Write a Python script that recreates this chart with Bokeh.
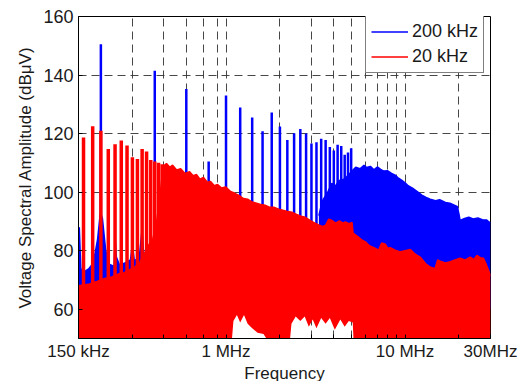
import numpy as np
from bokeh.plotting import figure
from bokeh.models import Range1d, FixedTicker, Legend, LegendItem
from bokeh.embed import file_html
from bokeh.resources import INLINE

# ---------------- data ----------------
x_ticks = [150e3, 300e3, 450e3, 600e3, 750e3, 900e3, 1e6, 2e6, 3e6, 4e6, 5e6,
           6e6, 7e6, 8e6, 9e6, 10e6, 20e6, 30e6]
x_tick_text = {150e3: "150 kHz", 1e6: "1 MHz", 10e6: "10 MHz", 30e6: "30MHz"}
y_ticks = [60, 80, 100, 120, 140, 160]

# 200 kHz switching: harmonic lines
blue_spike_freq = [200e3, 400e3, 600e3, 800e3, 1.0e6, 1.2e6, 1.4e6, 1.6e6, 1.8e6,
                   2.0e6, 2.2e6, 2.4e6, 2.6e6, 2.8e6, 3.0e6, 3.2e6, 3.4e6, 3.6e6,
                   3.8e6, 4.0e6, 4.2e6, 4.4e6, 4.6e6, 4.8e6, 5.0e6]
blue_spike_db = [150.5, 141.5, 135.2, 110.5, 133.0, 128.9, 125.5, 120.8, 127.2,
                 122.4, 117.8, 120.1, 121.6, 120.0, 116.6, 117.0, 118.2, 117.8,
                 115.4, 114.2, 116.2, 115.8, 112.8, 113.5, 115.0]
# 200 kHz: broadband floor below 450 kHz
blue_low_freq = [150e3, 153e3, 156e3, 160e3, 170e3, 180e3, 190e3, 196e3, 200e3,
                 206e3, 215e3, 225e3, 235e3, 240e3, 246e3, 255e3, 270e3, 290e3,
                 300e3, 310e3, 325e3, 340e3, 350e3, 365e3, 385e3, 398e3, 410e3, 440e3]
blue_low_db = [88.0, 88.0, 74.0, 73.0, 74.0, 76.0, 84.0, 92.0, 93.5,
               91.0, 80.0, 75.5, 75.0, 90.3, 78.0, 75.5, 76.0, 77.0,
               84.0, 77.0, 78.0, 90.3, 79.0, 79.0, 80.0, 88.6, 80.0, 80.0]
# 200 kHz: broadband envelope above 3.3 MHz
blue_hi_freq = [3.3e6, 3.45e6, 3.7e6, 3.9e6, 4.07e6, 4.3e6, 4.6e6, 4.85e6, 5.1e6,
                5.3e6, 5.6e6, 5.9e6, 6.1e6, 6.4e6, 6.7e6, 7.0e6, 7.3e6, 7.6e6,
                8.0e6, 8.4e6, 8.8e6, 9.1e6, 9.6e6, 10.0e6, 10.4e6, 11.0e6, 11.8e6,
                12.4e6, 13.1e6, 13.8e6, 14.8e6, 15.6e6, 16.8e6, 17.8e6, 19.1e6,
                19.6e6, 20.0e6, 20.3e6, 21.5e6, 22.7e6, 24.0e6, 25.5e6, 27.0e6,
                28.6e6, 29.4e6, 30.0e6]
blue_hi_db = [92.0, 97.0, 100.0, 103.0, 102.0, 104.0, 104.5, 106.0, 107.5,
              108.5, 108.0, 109.2, 108.4, 108.8, 107.6, 108.6, 107.8, 107.2,
              107.3, 106.4, 105.8, 105.0, 104.0, 103.2, 102.2, 101.4, 100.0,
              99.0, 98.2, 97.6, 97.1, 97.4, 96.5, 96.2, 95.4,
              95.0, 92.5, 90.3, 91.0, 91.4, 90.8, 91.2, 90.6,
              90.5, 89.8, 89.5]

# 20 kHz switching: harmonic lines (low band)
red_spike_freq = [160e3, 180e3, 200e3, 220e3, 240e3, 260e3, 280e3, 300e3, 320e3,
                  340e3, 360e3, 380e3, 400e3, 420e3, 440e3]
red_spike_db = [118.7, 122.5, 121.0, 114.7, 116.4, 117.6, 115.9, 111.9, 111.3,
                114.7, 113.9, 111.0, 110.5, 110.0, 109.5]
# 20 kHz: upper edge of the filled spectrum
red_top_freq = [150e3, 170e3, 190e3, 210e3, 230e3, 250e3, 270e3, 290e3, 310e3,
                330e3, 350e3, 370e3, 390e3, 410e3, 430e3, 445e3, 465e3, 485e3,
                503e3, 530e3, 558e3, 590e3, 626e3, 655e3, 685e3, 715e3, 749e3,
                785e3, 820e3, 860e3, 897e3, 945e3, 994e3, 1.06e6, 1.12e6, 1.18e6,
                1.25e6, 1.32e6, 1.40e6, 1.48e6, 1.56e6, 1.66e6, 1.76e6, 1.86e6,
                1.97e6, 2.08e6, 2.2e6, 2.34e6, 2.48e6, 2.62e6, 2.77e6, 2.93e6,
                3.1e6, 3.29e6, 3.45e6, 3.59e6, 3.75e6, 3.91e6, 4.1e6, 4.3e6, 4.5e6,
                4.64e6, 4.85e6, 5.06e6, 5.12e6, 5.4e6, 5.7e6, 6.0e6, 6.35e6, 6.7e6,
                7.12e6, 7.4e6, 7.76e6, 8.0e6, 8.27e6, 8.8e6, 9.4e6, 10.0e6, 10.7e6,
                11.4e6, 12.2e6, 13.0e6, 13.8e6, 14.7e6, 15.2e6, 15.7e6, 16.8e6,
                17.9e6, 19.0e6, 20.3e6, 21.6e6, 23.1e6, 24.2e6, 25.2e6, 26.3e6,
                27.4e6, 28.3e6, 29.2e6, 30.0e6]
red_top_db = [68.0, 68.5, 69.5, 70.5, 71.0, 72.0, 72.5, 73.5, 74.5,
              76.0, 79.0, 82.0, 84.0, 90.0, 100.0, 108.8, 109.8, 108.5,
              109.2, 107.6, 108.0, 106.4, 107.0, 105.6, 106.0, 104.4, 105.0,
              103.4, 103.6, 102.2, 102.6, 101.4, 101.8, 100.2, 99.6, 98.9,
              97.8, 97.6, 96.6, 96.2, 95.8, 95.5, 94.8, 94.8,
              94.2, 93.8, 93.4, 93.1, 92.4, 91.8, 91.4, 90.4,
              89.6, 88.8, 88.3, 88.6, 90.8, 90.3, 89.4, 90.2, 89.4,
              89.8, 89.2, 89.6, 86.0, 85.0, 83.8, 83.0, 81.6, 81.0,
              80.2, 82.6, 82.2, 80.8, 81.0, 80.2, 79.6, 80.0, 80.4,
              78.8, 77.7, 75.6, 74.4, 73.8, 76.8, 76.4, 75.8,
              76.2, 76.8, 77.4, 76.8, 77.8, 77.0, 78.4, 77.6,
              77.4, 75.5, 73.4, 71.5]
# 20 kHz: lower edge of the filled spectrum
red_bot_freq = [150e3, 1.08e6, 1.10e6, 1.15e6, 1.20e6, 1.26e6, 1.32e6, 1.40e6,
                1.50e6, 1.62e6, 1.68e6, 2.28e6, 2.32e6, 2.45e6, 2.60e6, 2.75e6,
                2.90e6, 3.05e6, 3.20e6, 3.40e6, 3.60e6, 3.80e6, 4.05e6, 4.35e6,
                4.60e6, 4.85e6, 5.10e6, 5.15e6, 30e6]
red_bot_db = [50, 50, 56, 58, 55.5, 58, 55, 53.5,
              52, 51.5, 50, 50, 55, 57.5, 56, 57.5,
              54, 56.5, 53.5, 57, 55, 57, 53, 56.5,
              54, 56, 55.5, 50, 50]

BLUE = "#0000FF"
RED = "#FF0000"
FONT = "Liberation Sans"
TXT = "#1a1a1a"

p = figure(frame_width=412, frame_height=322, x_axis_type="log",
           x_range=Range1d(150e3, 30e6), y_range=Range1d(50, 160),
           output_backend="svg", toolbar_location=None,
           min_border_left=78, min_border_right=37, min_border_top=16,
           min_border_bottom=43)
p.background_fill_color = "white"
p.border_fill_color = "white"
p.outline_line_color = "black"
p.outline_line_width = 1

# ---- blue (200 kHz) ----
p.varea(x=blue_low_freq, y1=50, y2=blue_low_db, fill_color=BLUE)
p.varea(x=blue_hi_freq, y1=60, y2=blue_hi_db, fill_color=BLUE)
lb = p.line(x=blue_hi_freq, y=blue_hi_db, line_color=BLUE, line_width=1.5)
p.segment(x0=blue_spike_freq, y0=60, x1=blue_spike_freq, y1=blue_spike_db,
          line_color=BLUE, line_width=2.5)

# ---- red (20 kHz) ----
poly_x = list(red_top_freq) + list(red_bot_freq[::-1])
poly_y = list(red_top_db) + list(red_bot_db[::-1])
p.patch(poly_x, poly_y, fill_color=RED, line_color=None)
lr = p.line(x=red_top_freq, y=red_top_db, line_color=RED, line_width=1.5)
p.segment(x0=red_spike_freq, y0=50, x1=red_spike_freq, y1=red_spike_db,
          line_color=RED, line_width=3.5)

legend = Legend(items=[LegendItem(label="200 kHz", renderers=[lb]),
                       LegendItem(label="20 kHz", renderers=[lr])],
                location=(287, 265))
legend.border_line_color = "black"
legend.border_line_width = 1
legend.background_fill_color = "white"
legend.background_fill_alpha = 1
legend.padding = 5
legend.spacing = 4
legend.margin = 0
legend.glyph_width = 37
legend.glyph_height = 19
legend.label_height = 19
legend.label_standoff = 4
legend.label_text_font = FONT
legend.label_text_font_size = "18px"
legend.label_text_color = TXT
p.add_layout(legend)

# axes
xt = FixedTicker(ticks=x_ticks)
p.xaxis.ticker = xt
p.xaxis.major_label_overrides = {t: x_tick_text.get(t, "") for t in x_ticks}
p.xaxis.minor_tick_line_color = None
p.xaxis.major_tick_in = 4
p.xaxis.major_tick_out = 0
p.xaxis.major_label_standoff = 3
p.xaxis.axis_label = "Frequency"
p.xaxis.axis_label_standoff = 0

p.yaxis.ticker = FixedTicker(ticks=y_ticks)
p.yaxis.minor_tick_line_color = None
p.yaxis.major_tick_in = 4
p.yaxis.major_tick_out = 0
p.yaxis.major_label_standoff = 5
p.yaxis.axis_label = "Voltage Spectral Amplitude (dBμV)"
p.yaxis.axis_label_standoff = 5

for ax in (p.xaxis, p.yaxis):
    ax.axis_line_color = "black"
    ax.major_tick_line_color = "black"
    ax.major_label_text_font = FONT
    ax.major_label_text_color = TXT
    ax.axis_label_text_font = FONT
    ax.axis_label_text_font_size = "17px"
    ax.axis_label_text_font_style = "normal"
    ax.axis_label_text_color = TXT
p.xaxis.major_label_text_font_size = "17px"
p.yaxis.major_label_text_font_size = "18px"

p.xgrid.ticker = xt
p.ygrid.ticker = FixedTicker(ticks=y_ticks)
for g in (p.xgrid, p.ygrid):
    g.grid_line_color = "#333333"
    g.grid_line_dash = "8 5"
    g.grid_line_width = 1
    g.grid_line_alpha = 0.9

open("out.html", "w").write(file_html(p, INLINE))
